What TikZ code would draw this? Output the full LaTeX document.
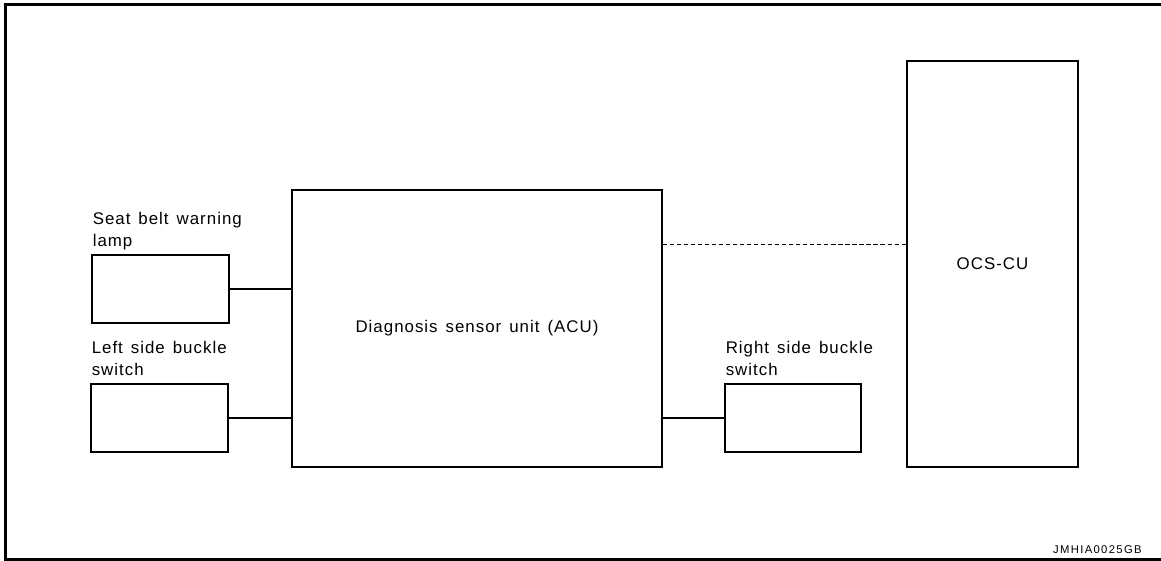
\documentclass[tikz,border=0pt]{standalone}
\usepackage{fontspec}
\setmainfont{Liberation Sans}[LetterSpace=6, WordSpace=1.4]
\usetikzlibrary{positioning}

\begin{document}
\begin{tikzpicture}[x=0.02cm, y=-0.02cm,
    unit/.style={draw, line width=0.75pt, inner sep=0pt, font=\fontsize{9.6}{12.5}\selectfont},
    tag/.style={anchor=south west, inner sep=0pt, align=left, font=\fontsize{9.6}{12.5}\selectfont},
    wire/.style={line width=0.75pt}]

    % Fix the page size
    \useasboundingbox (0,0) rectangle (1161,561);

    % Draw frame
    \draw[line width=2pt] (1161,4.7) -- (5.5,4.7) -- (5.5,559.5) -- (1161,559.5);

    % Draw units
    \node[unit, minimum width=7.4cm, minimum height=5.54cm] (acu) at (477,328.5) {\raisebox{-3pt}{Diagnosis sensor unit (ACU)}};
    \node[unit, minimum width=3.42cm, minimum height=8.12cm] (ocs) at (992.5,264) {OCS-CU};
    \node[unit, minimum width=2.74cm, minimum height=1.36cm] (lamp) at (160.5,289) {};
    \node[unit, minimum width=2.74cm, minimum height=1.36cm] (lbs) at (159.5,418) {};
    \node[unit, minimum width=2.72cm, minimum height=1.36cm] (rbs) at (793,418) {};

    % Draw unit names
    \node[tag] (lamptag) at ([xshift=0.6pt, yshift=0.8pt]lamp.north west) {Seat belt warning\\lamp\strut};
    \node[tag] (lbstag) at ([xshift=0.6pt, yshift=0.8pt]lbs.north west) {Left side buckle\\switch\strut};
    \node[tag] (rbstag) at ([xshift=0.6pt, yshift=0.8pt]rbs.north west) {Right side buckle\\switch\strut};

    % Draw connecting lines
    \draw[wire] (lamp.east) -- (lamp.east -| acu.west);
    \draw[wire] (lbs.east) -- (lbs.east -| acu.west);
    \draw[wire] (rbs.west) -- (rbs.west -| acu.east);
    \coordinate (link) at ([yshift=-1.1cm]acu.north east);
    \draw[wire, line width=0.85pt, dash pattern=on 2.4pt off 1.6pt] (link) -- (link -| ocs.west);

    % Draw figure code
    \node[anchor=base east, inner sep=0pt, font=\fontsize{6.4}{7}\selectfont\addfontfeature{LetterSpace=12}] (code) at (1142,553) {JMHIA0025GB};

\end{tikzpicture}
\end{document}
